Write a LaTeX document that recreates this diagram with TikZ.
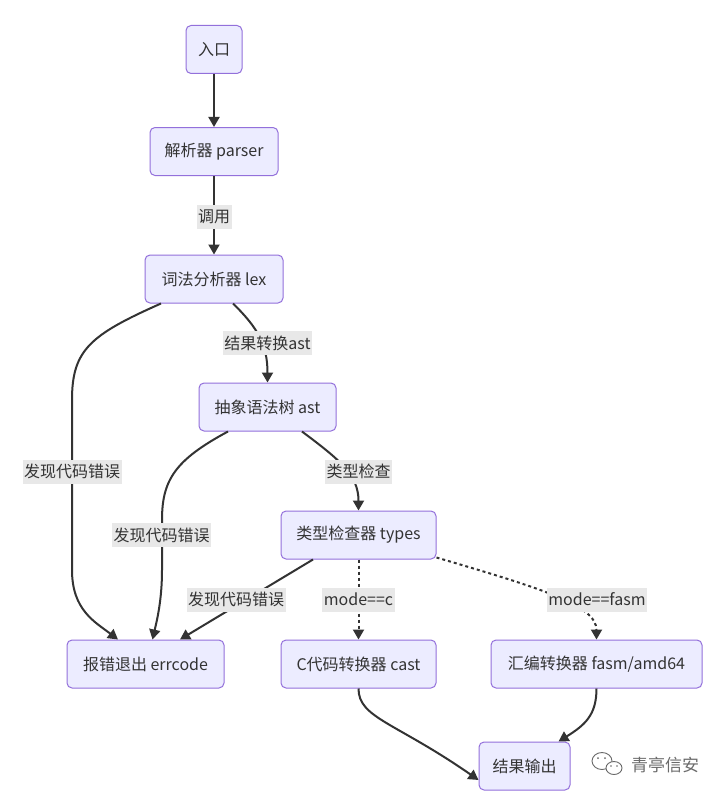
\documentclass[tikz,border=0pt]{standalone}
\usepackage{fontspec}
\setmainfont{Noto Sans CJK SC}
\usetikzlibrary{arrows.meta}
\definecolor{nodefill}{HTML}{ECECFF}
\definecolor{nodeline}{HTML}{9370DB}
\definecolor{edgecol}{HTML}{333333}
\definecolor{lblbg}{HTML}{E8E8E8}
\definecolor{wmgray}{HTML}{6A6A6A}
\begin{document}
\begin{tikzpicture}[x=1pt,y=-1pt,
  box/.style={draw=nodeline, fill=nodefill, rounded corners=5pt, line width=1pt,
    text=edgecol, font=\fontsize{16}{19}\selectfont, minimum height=48pt, inner sep=0pt},
  edge/.style={draw=edgecol, line width=2pt, -{Triangle[length=10pt,width=11pt]}},
  dotedge/.style={edge, dash pattern=on 3pt off 3pt},
  lbl/.style={fill=lblbg, text=edgecol, font=\fontsize{16}{19}\selectfont,
    inner xsep=1.5pt, inner ysep=0pt, minimum height=24pt},
  wm/.style={text=wmgray, font=\fontsize{17}{20}\selectfont, inner sep=0pt}
]
\useasboundingbox[fill=white] (0,0) rectangle (724,797);

% nodes
\node[box, minimum width=56pt]  (entry)  at (214,49.5)  {入口};
\node[box, minimum width=128pt] (parser) at (214,151.5) {解析器 parser};
\node[box, minimum width=138pt] (lex)    at (214,279)   {词法分析器 lex};
\node[box, minimum width=137pt] (ast)    at (267.5,407) {抽象语法树 ast};
\node[box, minimum width=155pt] (types)  at (358.5,535) {类型检查器 types};
\node[box, minimum width=157pt] (err)    at (145.5,664) {报错退出 errcode};
\node[box, minimum width=155pt] (cast)   at (358.5,664) {C代码转换器 cast};
\node[box, minimum width=211pt] (fasm)   at (596.5,664) {汇编转换器 fasm/amd64};
\node[box, minimum width=91pt]  (out)    at (524.5,766) {结果输出};

% edges
\draw[edge] (entry) -- (parser);
\draw[edge] (parser) -- (lex);
\draw[edge] ([xshift=19pt]lex.south) .. controls (258,328) and (267.5,345) .. (ast.north);
\draw[edge] ([xshift=-53pt]lex.south) .. controls (90,335) and (72,350) .. (72,400)
  -- (72,570) .. controls (72,610) and (95,622) .. ([xshift=-27.5pt]err.north);
\draw[edge] ([xshift=-39.5pt]ast.south) .. controls (175,460) and (162,480) .. (162,520)
  -- (162,570) .. controls (162,600) and (157,620) .. ([xshift=7pt]err.north);
\draw[edge] ([xshift=34.5pt]ast.south) .. controls (340,460) and (358.5,475) .. (types.north);
\draw[edge] ([xshift=-45.5pt]types.south) -- ([xshift=34.5pt]err.north);
\draw[dotedge] (types.south) -- (cast.north);
\draw[dotedge] ([yshift=2pt]types.south east) .. controls (540,588) and (596.5,605) .. (fasm.north);
\draw[edge] (cast.south) .. controls (358.5,718) and (395,722) .. ([yshift=-14pt]out.west);
\draw[edge] (fasm.south) .. controls (596.5,715) and (585,725) .. ([xshift=34pt]out.north);

% edge labels
\node[lbl] (l1) at (214,216.5)   {调用};
\node[lbl] (l2) at (267.5,343)   {结果转换ast};
\node[lbl] (l3) at (72,471.5)    {发现代码错误};
\node[lbl] (l4) at (358.5,471.5) {类型检查};
\node[lbl] (l5) at (161.5,535)   {发现代码错误};
\node[lbl] (l6) at (236,599.5)   {发现代码错误};
\node[lbl] (l7) at (358.5,599.5) {mode==c};
\node[lbl] (l8) at (597,599.5)   {mode==fasm};

% watermark
\draw[wmgray, line width=0.9pt] (602,761) ellipse [x radius=10pt, y radius=8.5pt];
\draw[wmgray, line width=0.9pt, fill=white] (614,768) ellipse [x radius=8pt, y radius=6.5pt];
\fill[wmgray] (598,758) circle (1pt) (605,758) circle (1pt) (611,766) circle (0.8pt) (617,766) circle (0.8pt);
\node[wm] (wmtext) at (665,765) {青亭信安};
\end{tikzpicture}
\end{document}
